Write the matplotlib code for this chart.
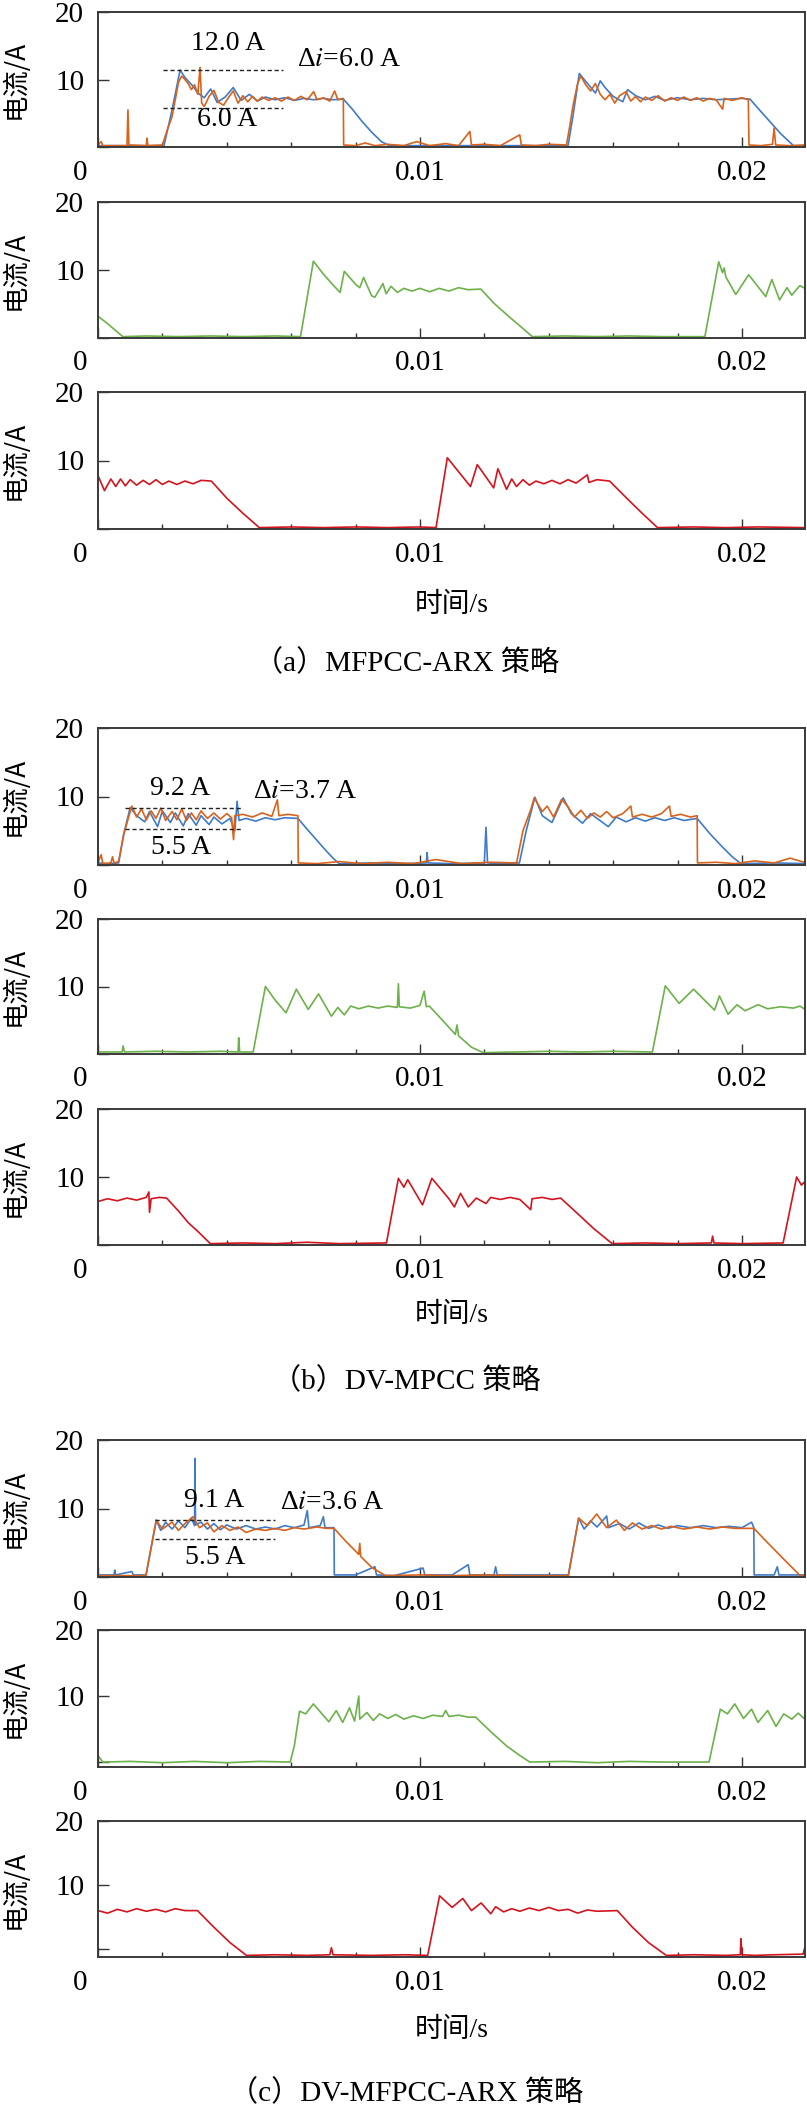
import numpy as np
import matplotlib
matplotlib.use("Agg")
import matplotlib.pyplot as plt
from matplotlib.transforms import ScaledTranslation

plt.rcParams['font.family'] = ['Liberation Serif', 'Noto Sans CJK SC']
plt.rcParams['mathtext.fontset'] = 'stix'

# time in ms, current in A
a1_blue = [(0, 0.2), (2.05, 0.2), (2.3, 5.5), (2.55, 11.4), (2.7, 10.3), (2.95, 9.0), (3.1, 8.0), (3.3, 7.3),
           (3.5, 8.6), (3.7, 6.6), (3.95, 7.4), (4.2, 8.8), (4.45, 6.9), (4.7, 7.8), (4.95, 6.8), (5.2, 7.4),
           (5.5, 7.0), (5.8, 7.3), (6.1, 6.9), (6.4, 7.2), (6.7, 7.0), (7.0, 7.2), (7.3, 7.0), (7.62, 7.1),
           (7.9, 5.6), (8.2, 3.8), (8.5, 2.2), (8.8, 0.8), (9.05, 0.2), (14.6, 0.2), (14.75, 4.5), (14.95, 10.9),
           (15.1, 10.0), (15.45, 8.0), (15.6, 9.8), (15.75, 8.8), (16.0, 7.5), (16.3, 6.7), (16.45, 8.5),
           (16.7, 7.6), (17.0, 7.0), (17.3, 7.5), (17.6, 6.9), (18.0, 7.3), (18.4, 7.0), (18.8, 7.2), (19.2, 7.0),
           (19.6, 7.1), (20.0, 7.2), (20.25, 7.1), (20.6, 5.2), (20.9, 3.6), (21.2, 2.0), (21.6, 0.2), (22.0, 0.2)]
a1_orange = [(0, 0.3), (0.1, 0.8), (0.15, 0.2), (0.5, 0.2), (0.9, 0.2), (0.93, 5.5), (0.96, 0.3), (1.5, 0.2),
             (1.52, 1.3), (1.55, 0.2), (2.0, 0.3), (2.15, 2.5), (2.3, 4.5), (2.4, 7.0), (2.5, 9.6), (2.6, 10.5),
             (2.7, 10.0), (2.8, 9.4), (2.9, 8.5), (3.0, 9.2), (3.1, 7.8), (3.17, 11.8), (3.22, 6.5), (3.3, 6.0),
             (3.45, 7.5), (3.6, 8.4), (3.75, 6.6), (3.9, 6.2), (4.05, 7.3), (4.2, 8.3), (4.35, 6.5), (4.5, 7.6),
             (4.65, 6.7), (4.8, 7.5), (4.95, 6.8), (5.1, 7.4), (5.3, 6.9), (5.5, 7.3), (5.7, 6.8), (5.9, 7.4),
             (6.1, 6.9), (6.3, 7.5), (6.5, 7.0), (6.7, 8.2), (6.8, 7.0), (7.0, 7.3), (7.2, 6.8), (7.35, 8.3),
             (7.45, 7.0), (7.62, 7.2), (7.63, 0.3), (8.0, 0.2), (8.3, 0.6), (8.6, 0.2), (9.0, 0.4), (9.5, 0.2),
             (9.9, 0.8), (10.3, 0.2), (10.8, 0.5), (11.2, 0.2), (11.55, 2.3), (11.6, 0.3), (12.0, 0.4),
             (12.5, 0.2), (13.1, 1.8), (13.15, 0.3), (13.6, 0.2), (14.0, 0.4), (14.55, 0.3), (14.65, 3.0),
             (14.75, 6.0), (14.9, 9.5), (15.0, 10.5), (15.15, 9.2), (15.3, 8.3), (15.45, 9.4), (15.6, 7.8),
             (15.75, 7.0), (15.9, 7.8), (16.05, 6.5), (16.2, 7.6), (16.4, 8.2), (16.55, 6.8), (16.7, 7.5),
             (16.85, 6.7), (17.0, 7.4), (17.2, 6.9), (17.4, 7.6), (17.6, 6.8), (17.8, 7.3), (18.0, 6.9),
             (18.2, 7.4), (18.4, 6.9), (18.6, 7.3), (18.8, 6.8), (19.0, 7.2), (19.2, 7.0), (19.4, 5.6),
             (19.45, 7.2), (19.7, 6.9), (20.0, 7.3), (20.2, 7.0), (20.22, 0.3), (20.6, 0.2), (20.95, 0.4),
             (21.0, 2.8), (21.05, 0.3), (21.5, 0.2), (22.0, 0.3)]
a2_green = [(0, 3.2), (0.3, 2.1), (0.77, 0.2), (1.5, 0.3), (2.5, 0.2), (3.5, 0.3), (4.5, 0.2), (5.5, 0.3),
            (6.29, 0.2), (6.69, 11.3), (7.0, 9.4), (7.3, 7.8), (7.52, 6.7), (7.65, 9.8), (8.0, 7.9), (8.13, 7.4),
            (8.25, 8.9), (8.5, 6.2), (8.6, 6.0), (8.85, 8.0), (8.95, 6.5), (9.1, 7.6), (9.3, 6.7), (9.5, 7.3),
            (9.75, 6.9), (10.0, 7.3), (10.3, 6.8), (10.6, 7.3), (10.9, 6.9), (11.2, 7.4), (11.5, 7.1),
            (11.89, 7.2), (12.3, 5.1), (12.8, 3.0), (13.1, 1.8), (13.49, 0.2), (14.5, 0.3), (15.5, 0.2),
            (16.5, 0.3), (17.5, 0.2), (18.85, 0.2), (19.28, 11.2), (19.4, 9.6), (19.45, 10.3), (19.5, 9.0),
            (19.81, 6.4), (20.21, 9.3), (20.74, 6.1), (20.93, 8.6), (21.17, 5.6), (21.4, 7.4), (21.55, 6.3),
            (21.8, 7.7), (22.0, 7.2)]
a3_red = [(0, 7.8), (0.2, 5.6), (0.4, 7.3), (0.55, 6.2), (0.7, 7.3), (0.85, 6.3), (1.0, 7.2), (1.2, 6.4),
          (1.4, 7.1), (1.6, 6.5), (1.8, 7.2), (2.0, 6.5), (2.2, 7.0), (2.45, 6.5), (2.7, 7.0), (2.95, 6.6),
          (3.2, 7.1), (3.52, 7.0), (4.0, 4.5), (4.5, 2.3), (5.01, 0.2), (6.0, 0.3), (7.0, 0.2), (8.0, 0.3),
          (9.0, 0.2), (10.0, 0.3), (10.5, 0.2), (10.85, 10.4), (11.57, 6.2), (11.78, 9.4), (12.29, 6.0),
          (12.42, 8.8), (12.69, 5.8), (12.85, 7.3), (13.0, 6.2), (13.2, 7.2), (13.4, 6.4), (13.6, 7.0),
          (13.85, 6.6), (14.1, 7.1), (14.35, 6.6), (14.6, 7.2), (14.85, 6.7), (15.2, 7.9), (15.25, 6.8),
          (15.5, 7.2), (15.89, 7.0), (16.4, 4.6), (16.9, 2.3), (17.38, 0.2), (18.5, 0.3), (19.5, 0.2),
          (20.5, 0.3), (22.0, 0.2)]

b1_blue = [(0, 0.3), (0.3, 0.2), (0.64, 0.3), (0.8, 4.5), (1.0, 8.4), (1.2, 7.2), (1.45, 6.3), (1.6, 7.8),
           (1.85, 5.6), (2.0, 7.9), (2.25, 6.2), (2.4, 7.6), (2.65, 5.7), (2.8, 7.5), (3.05, 5.8), (3.2, 7.2),
           (3.45, 5.9), (3.6, 7.0), (3.85, 6.0), (4.1, 6.8), (4.25, 5.0), (4.32, 9.3), (4.38, 6.5), (4.6, 6.8),
           (4.9, 6.4), (5.2, 6.9), (5.5, 6.6), (5.8, 6.9), (6.21, 6.8), (6.5, 5.2), (6.8, 3.6), (7.1, 2.0),
           (7.3, 1.0), (7.49, 0.2), (8.5, 0.3), (9.5, 0.2), (10.2, 0.3), (10.22, 1.8), (10.25, 0.3),
           (11.0, 0.2), (12.0, 0.3), (12.05, 5.5), (12.1, 0.3), (12.5, 0.2), (13.09, 0.3), (13.3, 5.0),
           (13.57, 9.9), (13.8, 7.2), (14.1, 6.2), (14.45, 9.8), (14.7, 7.5), (15.05, 6.1), (15.3, 7.5),
           (15.85, 5.6), (16.1, 7.0), (16.4, 6.3), (16.7, 6.9), (17.0, 6.4), (17.3, 6.9), (17.6, 6.5),
           (17.9, 6.9), (18.2, 6.5), (18.61, 6.8), (19.0, 4.6), (19.4, 2.6), (19.7, 1.2), (19.97, 0.2),
           (21.0, 0.3), (22.0, 0.2)]
b1_orange = [(0, 0.4), (0.1, 1.5), (0.15, 0.2), (0.4, 0.3), (0.45, 1.2), (0.5, 0.3), (0.64, 0.5), (0.8, 4.5),
             (1.05, 8.6), (1.2, 7.0), (1.35, 8.2), (1.5, 6.6), (1.65, 7.9), (1.8, 6.8), (1.95, 8.3), (2.1, 6.5),
             (2.3, 7.8), (2.45, 6.6), (2.6, 8.2), (2.75, 6.5), (2.9, 7.6), (3.05, 6.6), (3.2, 7.9), (3.4, 6.8),
             (3.6, 7.6), (3.8, 6.7), (4.0, 7.5), (4.15, 6.9), (4.21, 3.7), (4.25, 7.2), (4.5, 7.4), (4.8, 7.0),
             (5.1, 7.6), (5.4, 7.1), (5.57, 9.5), (5.62, 7.2), (5.9, 7.4), (6.21, 7.2), (6.22, 0.3), (6.8, 0.2),
             (7.5, 0.5), (8.2, 0.2), (9.0, 0.4), (9.8, 0.2), (10.5, 0.8), (11.3, 0.2), (12.2, 0.4), (13.0, 0.3),
             (13.2, 5.0), (13.45, 8.2), (13.55, 9.8), (13.8, 7.8), (13.95, 8.6), (14.15, 7.0), (14.4, 9.6),
             (14.6, 8.5), (14.8, 7.0), (15.0, 8.0), (15.2, 6.8), (15.4, 7.6), (15.6, 7.0), (15.8, 7.8),
             (16.0, 6.9), (16.3, 7.5), (16.55, 8.6), (16.6, 7.0), (16.9, 7.4), (17.2, 7.0), (17.5, 7.5),
             (17.75, 8.6), (17.8, 7.1), (18.1, 7.4), (18.4, 7.0), (18.61, 7.2), (18.62, 0.3), (19.2, 0.4),
             (19.8, 0.2), (20.4, 0.6), (21.0, 0.3), (21.5, 1.0), (22.0, 0.3)]
b2_green = [(0, 0.3), (0.75, 0.3), (0.78, 1.2), (0.82, 0.3), (1.8, 0.4), (2.8, 0.3), (3.8, 0.4), (4.35, 0.3),
            (4.37, 2.4), (4.4, 0.3), (4.82, 0.3), (5.2, 10.0), (5.5, 8.0), (5.84, 6.1), (6.16, 9.6), (6.53, 6.6),
            (6.85, 8.9), (7.25, 5.6), (7.45, 6.9), (7.65, 5.8), (7.85, 7.1), (8.1, 6.7), (8.4, 7.1), (8.7, 6.8),
            (9.0, 7.1), (9.3, 6.9), (9.33, 10.4), (9.36, 7.0), (9.7, 6.8), (10.0, 7.2), (10.13, 9.3),
            (10.2, 7.0), (10.29, 7.1), (10.7, 5.0), (11.1, 2.9), (11.15, 4.3), (11.2, 2.7), (11.6, 1.0),
            (11.97, 0.2), (13.0, 0.3), (14.0, 0.4), (15.0, 0.3), (16.0, 0.4), (17.22, 0.3), (17.62, 10.1),
            (18.05, 7.5), (18.5, 9.6), (19.15, 6.5), (19.3, 8.6), (19.57, 5.9), (19.85, 7.3), (20.1, 6.4),
            (20.5, 7.3), (20.8, 6.7), (21.2, 7.0), (21.6, 6.8), (21.8, 7.1), (22.0, 6.5)]
b3_red = [(0, 6.4), (0.3, 6.8), (0.6, 6.5), (0.9, 6.9), (1.2, 6.6), (1.5, 7.0), (1.58, 7.8), (1.6, 4.8),
          (1.65, 6.8), (1.9, 7.0), (2.13, 6.9), (2.5, 5.0), (2.8, 3.3), (3.1, 2.0), (3.49, 0.2), (4.5, 0.3),
          (5.5, 0.2), (6.5, 0.4), (7.5, 0.2), (8.96, 0.3), (9.33, 9.8), (9.5, 8.5), (9.62, 9.6), (10.08, 5.9),
          (10.37, 9.8), (10.9, 6.8), (11.07, 5.6), (11.26, 7.6), (11.5, 5.6), (11.75, 6.9), (12.05, 6.1),
          (12.2, 7.0), (12.5, 6.7), (12.8, 7.0), (13.1, 6.7), (13.44, 5.2), (13.48, 6.8), (13.8, 7.0),
          (14.1, 6.7), (14.37, 6.9), (14.9, 4.6), (15.4, 2.4), (15.97, 0.2), (17.0, 0.3), (18.0, 0.2),
          (19.05, 0.3), (19.09, 1.3), (19.13, 0.3), (20.0, 0.2), (21.28, 0.3), (21.7, 10.0), (21.85, 8.8),
          (21.92, 9.2), (22.0, 8.6)]

c1_blue = [(0, 0.3), (0.5, 0.3), (0.52, 1.0), (0.55, 0.3), (1.05, 0.8), (1.1, 0.3), (1.49, 0.3), (1.81, 8.3),
           (1.95, 6.8), (2.1, 8.0), (2.3, 7.0), (2.5, 8.2), (2.7, 7.2), (2.9, 8.6), (3.0, 7.5), (3.01, 17.3),
           (3.03, 7.6), (3.2, 8.0), (3.4, 7.0), (3.6, 7.8), (3.8, 6.9), (4.0, 7.6), (4.3, 7.0), (4.6, 7.5),
           (4.9, 7.0), (5.2, 7.3), (5.5, 7.0), (5.8, 7.5), (6.1, 7.2), (6.4, 7.6), (6.5, 9.7), (6.55, 7.2),
           (6.9, 7.5), (7.0, 8.8), (7.05, 7.2), (7.33, 7.2), (7.34, 0.3), (8.0, 0.3), (8.6, 1.5), (8.65, 0.3),
           (9.2, 0.2), (10.1, 1.3), (10.15, 0.3), (11.0, 0.3), (11.5, 1.8), (11.55, 0.3), (12.3, 0.3),
           (12.35, 1.5), (12.4, 0.3), (13.6, 0.3), (14.61, 0.3), (14.93, 8.6), (15.1, 7.0), (15.3, 8.2),
           (15.5, 7.3), (15.8, 8.9), (15.85, 7.2), (16.2, 7.8), (16.5, 7.0), (16.8, 7.9), (17.1, 7.1),
           (17.4, 7.6), (17.7, 7.1), (18.0, 7.5), (18.4, 7.2), (18.8, 7.5), (19.2, 7.2), (19.6, 7.4),
           (20.0, 7.2), (20.3, 8.0), (20.37, 7.2), (20.38, 0.3), (21.0, 0.3), (21.1, 1.5), (21.15, 0.3),
           (22.0, 0.3)]
c1_orange = [(0, 0.2), (1.49, 0.2), (1.81, 8.3), (2.0, 7.0), (2.3, 8.0), (2.5, 6.8), (2.7, 7.8), (2.95, 8.8),
             (3.15, 7.2), (3.4, 7.9), (3.6, 6.6), (3.85, 7.5), (4.1, 6.8), (4.35, 7.3), (4.6, 6.5), (4.9, 7.0),
             (5.2, 6.8), (5.5, 7.1), (5.8, 6.8), (6.1, 7.2), (6.4, 7.0), (6.8, 7.3), (7.1, 7.1), (7.33, 7.1),
             (7.7, 5.2), (8.1, 3.3), (8.13, 4.9), (8.16, 3.0), (8.5, 1.4), (8.93, 0.2), (10.0, 0.3),
             (11.0, 0.2), (12.0, 0.3), (13.0, 0.2), (14.61, 0.2), (14.93, 8.6), (15.2, 7.5), (15.49, 9.2),
             (15.8, 7.2), (16.1, 8.3), (16.35, 6.8), (16.6, 7.9), (16.9, 7.0), (17.2, 7.5), (17.5, 7.0),
             (17.8, 7.4), (18.2, 7.0), (18.6, 7.3), (19.0, 7.0), (19.4, 7.3), (19.8, 7.1), (20.37, 7.1),
             (20.8, 5.0), (21.3, 2.6), (21.81, 0.2), (22.0, 0.2)]
c2_green = [(0, 1.0), (0.15, 0.0), (1.0, 0.1), (2.0, -0.1), (3.0, 0.1), (4.0, -0.1), (5.0, 0.1), (5.97, 0.0),
            (6.1, 2.5), (6.26, 7.7), (6.45, 7.3), (6.69, 8.8), (7.17, 6.1), (7.4, 7.8), (7.6, 6.0), (7.81, 8.2),
            (7.97, 6.2), (8.1, 10.0), (8.13, 6.5), (8.35, 7.5), (8.55, 6.3), (8.75, 7.3), (9.0, 6.6),
            (9.25, 7.2), (9.5, 6.5), (9.8, 7.0), (10.1, 6.6), (10.4, 7.1), (10.7, 6.9), (10.8, 7.8),
            (10.9, 6.9), (11.2, 7.1), (11.5, 6.8), (11.73, 6.8), (12.2, 4.6), (12.7, 2.4), (13.1, 1.0),
            (13.41, 0.0), (14.5, 0.1), (15.5, -0.1), (16.5, 0.1), (17.5, 0.0), (18.98, 0.0), (19.33, 8.0),
            (19.55, 7.3), (19.78, 8.8), (20.05, 6.6), (20.3, 8.0), (20.5, 6.0), (20.8, 7.8), (21.06, 5.4),
            (21.3, 7.3), (21.55, 6.5), (21.75, 7.4), (22.0, 6.3)]
c3_red = [(0, 6.0), (0.3, 5.6), (0.6, 6.2), (0.9, 5.8), (1.2, 6.3), (1.5, 5.9), (1.8, 6.2), (2.1, 5.8),
          (2.4, 6.3), (2.7, 6.0), (3.09, 6.0), (3.6, 3.4), (4.1, 1.0), (4.61, -1.0), (5.5, -0.9), (6.5, -1.0),
          (7.2, -0.9), (7.25, 0.2), (7.3, -0.9), (8.5, -1.0), (9.5, -0.9), (10.24, -1.0), (10.61, 8.3),
          (11.0, 6.5), (11.33, 7.9), (11.6, 6.0), (11.9, 7.2), (12.2, 5.5), (12.35, 6.6), (12.6, 5.8),
          (12.85, 6.3), (13.1, 5.9), (13.4, 6.4), (13.7, 6.0), (14.0, 6.5), (14.3, 6.0), (14.6, 6.2),
          (14.9, 5.6), (15.2, 6.1), (15.5, 5.9), (16.13, 6.0), (16.6, 3.4), (17.1, 1.0), (17.65, -1.0),
          (18.5, -0.9), (19.5, -1.0), (19.95, -0.9), (19.97, 1.6), (20.0, -0.9), (20.4, -1.0), (21.0, -0.9),
          (21.9, -0.8), (21.95, 0.2), (22.0, -0.9)]

# dashed ripple markers: (t_start, t_end, level) and their labels
a_marks = [(2.02, 5.75, 11.4), (2.02, 5.75, 5.8)]
b_marks = [(0.84, 4.47, 8.3), (0.84, 4.47, 5.3)]
c_marks = [(1.77, 5.5, 8.3), (1.77, 5.5, 5.5)]
a_labels = [(4.04, 15.3, '12.0 A'), (4.0, 4.1, '6.0 A'), (7.8, 13.0, r'Δ$i$=6.0 A')]
b_labels = [(2.55, 11.1, '9.2 A'), (2.58, 2.6, '5.5 A'), (6.43, 10.7, r'Δ$i$=3.7 A')]
c_labels = [(3.6, 11.1, '9.1 A'), (3.63, 2.8, '5.5 A'), (7.27, 10.9, r'Δ$i$=3.6 A')]

captions = ['（a）MFPCC-ARX 策略', '（b）DV-MPCC 策略', '（c）DV-MFPCC-ARX 策略']

BLUE = '#3f7bc9'
ORANGE = '#d9621c'
GREEN = '#6cb14a'
RED = '#d3141f'

W, H = 807, 2106
fig = plt.figure(figsize=(W / 100, H / 100), dpi=100)


def panel(top, bottom, traces, ybot=0.0):
    ax = fig.add_axes([98 / W, 1 - bottom / H, 707 / W, (bottom - top) / H])
    for data, col in traces:
        arr = np.array(data)
        ax.plot(arr[:, 0] / 1000, arr[:, 1], color=col, lw=1.2)
    ax.set_xlim(0, 0.02196)
    ax.set_ylim(ybot, 20)
    ax.set_xticks([0, 0.01, 0.02])
    ax.set_xticklabels(['0', '0.01', '0.02'])
    ax.set_xticks(np.arange(0.002, 0.022, 0.002), minor=True)
    ax.set_yticks([0, 10, 20])
    ax.set_yticklabels(['', '10', '20'])
    ax.tick_params(axis='x', which='major', direction='in', length=7, width=1, pad=9, labelsize=21, color='#333333')
    ax.tick_params(axis='x', which='minor', direction='in', length=3.5, width=1, color='#333333')
    ax.tick_params(axis='y', direction='in', length=8, width=1, pad=10, labelsize=21, color='#333333')
    for lab in ax.get_xticklabels():
        if lab.get_text() == '0':
            lab.set_transform(lab.get_transform() + ScaledTranslation(-0.18, 0, fig.dpi_scale_trans))
    for s in ax.spines.values():
        s.set_color('#3a3a3a')
        s.set_linewidth(1.4)
    ax.set_ylabel('电流/A', family=['Noto Sans CJK SC'], fontsize=19)
    ax.yaxis.set_label_coords(-0.098, 0.5)
    return ax


def marks(ax, lines, labels):
    for t0, t1, lev in lines:
        ax.plot([t0 / 1000, t1 / 1000], [lev, lev], color='#222222', lw=1.0, ls=(0, (3, 2)))
    for t, v, s in labels:
        ax.text(t / 1000, v, s, ha='center', va='center', fontsize=20)


# (a)
ax = panel(12, 147, [(a1_blue, BLUE), (a1_orange, ORANGE)])
marks(ax, a_marks, a_labels)
panel(202, 338, [(a2_green, GREEN)])
ax = panel(392, 529, [(a3_red, RED)])
ax.set_xlabel('时间/s', fontsize=20, labelpad=18)

# (b)
ax = panel(728, 865, [(b1_blue, BLUE), (b1_orange, ORANGE)])
marks(ax, b_marks, b_labels)
panel(919, 1054, [(b2_green, GREEN)])
ax = panel(1109, 1245, [(b3_red, RED)])
ax.set_xlabel('时间/s', fontsize=20, labelpad=14)

# (c)
ax = panel(1440, 1577, [(c1_blue, BLUE), (c1_orange, ORANGE)])
marks(ax, c_marks, c_labels)
panel(1630, 1767, [(c2_green, GREEN)], ybot=-0.75)
ax = panel(1821, 1957, [(c3_red, RED)], ybot=-1.25)
ax.set_xlabel('时间/s', fontsize=20, labelpad=16)

for y, cap in zip([663, 1381, 2093], captions):
    fig.text(406 / W, 1 - y / H, cap, ha='center', va='center', fontsize=21)

fig.savefig('out.png', dpi=100)
